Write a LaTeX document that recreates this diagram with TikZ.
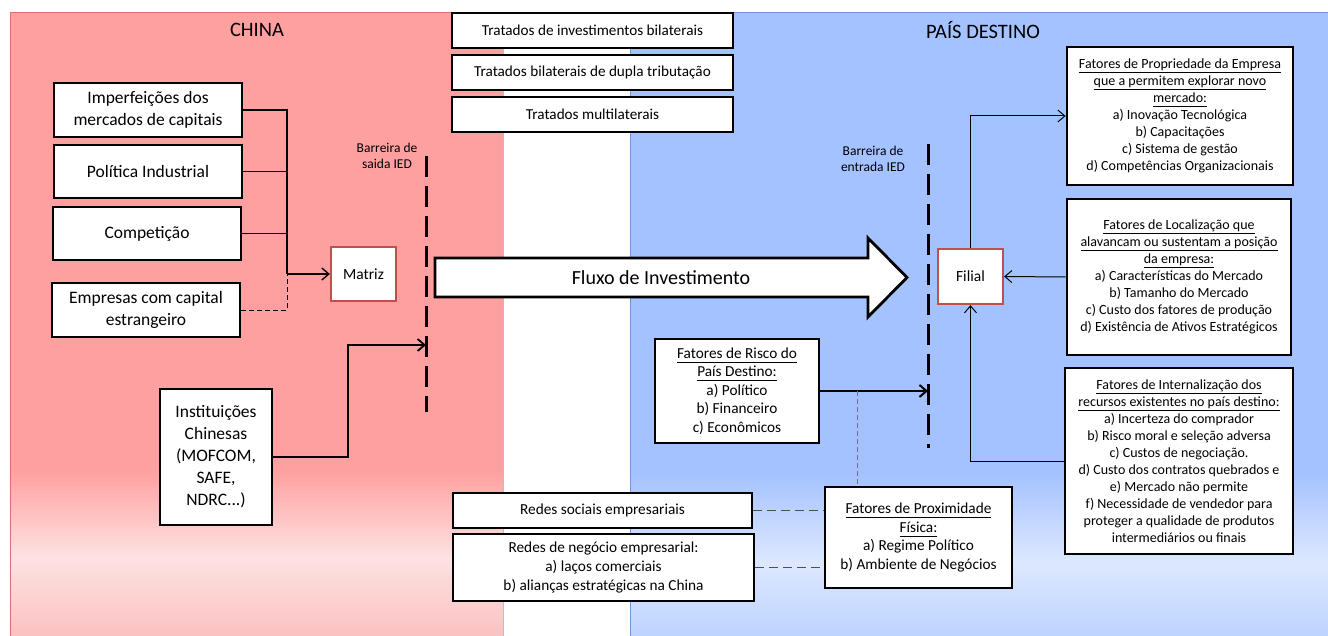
\documentclass[tikz,border=0pt]{standalone}
\usepackage{fontspec}
\setmainfont{Carlito}
\usetikzlibrary{arrows.meta}

% palette
\definecolor{chinaA}{RGB}{255,160,160}
\definecolor{chinaL}{RGB}{253,226,226}
\definecolor{chinaB}{RGB}{251,194,194}
\definecolor{chinaEdge}{RGB}{226,112,112}
\definecolor{destA}{RGB}{164,194,255}
\definecolor{destL}{RGB}{221,232,255}
\definecolor{destB}{RGB}{189,211,255}
\definecolor{destEdge}{RGB}{110,150,215}
\definecolor{frameRed}{RGB}{192,80,77}
\definecolor{dashGrey}{RGB}{80,80,80}

% background gradients (0bp = bottom of the area, 25..75bp = area height)
\pgfdeclareverticalshading{chinabg}{100bp}{color(0bp)=(chinaB); color(25bp)=(chinaB); color(31.3bp)=(chinaL); color(38.3bp)=(chinaA); color(100bp)=(chinaA)}
\pgfdeclareverticalshading{destbg}{100bp}{color(0bp)=(destB); color(25bp)=(destB); color(30.9bp)=(destL); color(38.1bp)=(destA); color(100bp)=(destA)}

\newcommand\hdline[1]{\underline{#1\vphantom{gpq}}}

\begin{document}
\begin{tikzpicture}[x=1pt,y=-1pt,
  bx/.style={draw=black, line width=2.8pt, fill=white, inner sep=1pt, align=center, text=black},
  redbx/.style={draw=frameRed, line width=2.2pt, fill=white, inner sep=1pt},
  arr/.style={-{Straight Barb[length=7pt,width=12pt]}},
  grdash/.style={draw=dashGrey, line width=1.6pt, dash pattern=on 9pt off 5pt},
  fine/.style={draw=dashGrey!80, line width=0.9pt, dash pattern=on 5pt off 3pt},
  barrier/.style={line width=3pt, dash pattern=on 21pt off 9pt},
  ftitle/.style={font=\fontsize{20.5}{24}\selectfont},
  fbig/.style={font=\fontsize{17.5}{22}\selectfont},
  fmid/.style={font=\fontsize{15.3}{18.6}\selectfont},
  ftreaty/.style={font=\fontsize{15.2}{17}\selectfont},
  fsmall/.style={font=\fontsize{14}{17}\selectfont},
  fcore/.style={font=\fontsize{15.5}{18}\selectfont},
  fnote/.style={font=\fontsize{13.5}{16}\selectfont},
  fflow/.style={font=\fontsize{20}{24}\selectfont}]

\useasboundingbox (0,0) rectangle (1328,636);
\fill[white] (0,0) rectangle (1328,636);

% the two country areas
\shade[shading=chinabg] (10,13) rectangle (503,636);
\draw[chinaEdge, line width=1pt] (10,636) -- (10,13) -- (503,13);
\draw[black!25, line width=0.8pt] (503.5,13) -- (503.5,636);
\shade[shading=destbg] (630,13) rectangle (1328,636);
\draw[destEdge, line width=1pt] (630,636) -- (630,13) -- (1328,13);

\node[ftitle] (china) at (257,30) {CHINA};
\node[ftitle] (destino) at (983,30) {PAÍS DESTINO};

% treaties
\node[bx, ftreaty, minimum width=281pt, minimum height=35pt] (t1) at (592.5,30.5) {Tratados de investimentos bilaterais};
\node[bx, ftreaty, minimum width=281pt, minimum height=35pt] (t2) at (592.5,72.5) {Tratados bilaterais de dupla tributação};
\node[bx, ftreaty, minimum width=281pt, minimum height=35pt] (t3) at (592.5,114.5) {Tratados multilaterais};

% home-country drivers
\node[bx, fbig, minimum width=188pt, minimum height=54pt] (imp) at (148,110) {Imperfeições dos\\mercados de capitais};
\node[bx, fbig, minimum width=188pt, minimum height=53pt] (pol) at (148,171.5) {Política Industrial};
\node[bx, fbig, minimum width=188pt, minimum height=53pt] (comp) at (147,233.5) {Competição};
\node[bx, fbig, minimum width=188pt, minimum height=54pt] (emp) at (146,310) {Empresas com capital\\estrangeiro};
\node[bx, fbig, minimum width=112pt, minimum height=136pt] (inst) at (216,457) {Instituições\\Chinesas\\(MOFCOM,\\SAFE,\\NDRC...)};

\node[redbx, fcore, minimum width=65pt, minimum height=54pt] (matriz) at (363.5,274) {Matriz};
\node[redbx, fcore, minimum width=65pt, minimum height=55pt] (filial) at (970.5,276.5) {Filial};

% barriers
\node[fnote, align=center] (saidalbl) at (387,156) {Barreira de\\saida IED};
\node[fnote, align=center] (entrlbl) at (873,159) {Barreira de\\entrada IED};
\coordinate (sbtop) at (426,156);
\coordinate (sbbot) at (426,412);
\coordinate (ebtop) at (928,144);
\coordinate (ebbot) at (928,448);
\draw[barrier] (sbtop) -- (sbbot);
\draw[barrier] (ebtop) -- (ebbot);

% investment flow
\draw[fill=white, line width=2.8pt, line join=miter]
  (435,258) -- (868,258) -- (868,238) -- (907,277.5) -- (868,317) -- (868,297) -- (435,297) -- cycle;
\node[fflow] (fluxo) at (661,277.5) {Fluxo de Investimento};

% host-country factors
\node[bx, fsmall, minimum width=226pt, minimum height=138pt] (prop) at (1180,116)
  {\hdline{Fatores de Propriedade da Empresa}\\\hdline{que a permitem explorar novo}\\\hdline{mercado:}\\a) Inovação Tecnológica\\b) Capacitações\\c) Sistema de gestão\\d) Competências Organizacionais};
\node[bx, fsmall, minimum width=224pt, minimum height=156pt] (loc) at (1179,277)
  {\hdline{Fatores de Localização que}\\\hdline{alavancam ou sustentam a posição}\\\hdline{da empresa:}\\a) Características do Mercado\\b) Tamanho do Mercado\\c) Custo dos fatores de produção\\d) Existência de Ativos Estratégicos};
\node[bx, fsmall, minimum width=228pt, minimum height=186pt] (intern) at (1179,461)
  {\hdline{Fatores de Internalização dos}\\\hdline{recursos existentes no país destino:}\\a) Incerteza do comprador\\b) Risco moral e seleção adversa\\c) Custos de negociação.\\d) Custo dos contratos quebrados e\\e) Mercado não permite\\f) Necessidade de vendedor para\\proteger a qualidade de produtos\\intermediários ou finais};

\node[bx, fmid, minimum width=164pt, minimum height=104pt] (risco) at (737,391)
  {\hdline{Fatores de Risco do}\\\hdline{País Destino:}\\a) Político\\b) Financeiro\\c) Econômicos};
\node[bx, fmid, minimum width=187pt, minimum height=101pt] (prox) at (918.5,537.5)
  {\hdline{Fatores de Proximidade}\\\hdline{Física:}\\a) Regime Político\\b) Ambiente de Negócios};
\node[bx, fmid, minimum width=299pt, minimum height=35pt] (rsoc) at (602.5,510.5) {Redes sociais empresariais};
\node[bx, fmid, minimum width=301pt, minimum height=67pt] (rneg) at (603.5,567.5)
  {Redes de negócio empresarial:\\a) laços comerciais\\b) alianças estratégicas na China};

% connectors on the home side
\coordinate (hub) at (287,274);
\draw[line width=1.2pt] (imp.east) -| (hub);
\draw[line width=1.2pt] (pol.east) -| (hub);
\draw[line width=1.2pt] (comp.east) -| (hub);
\draw[fine, draw=black] (emp.east) -| (hub);
\draw[arr, line width=1.4pt] (hub) -- (matriz.west);
\coordinate (instkink) at (348,345);
\coordinate (sbin) at (426,345);
\draw[arr, line width=1.8pt] (inst.east) -| (instkink) -- (sbin);

% connectors on the host side
\coordinate (ebin) at (928,391);
\draw[arr, line width=2pt] (risco.east) -- (ebin);
\coordinate (riskjoin) at (857,391);
\draw[fine] (riskjoin) -- (riskjoin |- prox.north);
\draw[grdash] (rsoc.east) -- (rsoc.east -| prox.west);
\draw[grdash] (rneg.east) -- (rneg.east -| prox.west);
\draw[arr, line width=1pt] (filial.north) |- (prop.west);
\draw[arr, line width=1pt] (loc.west) -- (filial.east);
\draw[arr, line width=1pt] (intern.west) -| (filial.south);

\end{tikzpicture}
\end{document}
